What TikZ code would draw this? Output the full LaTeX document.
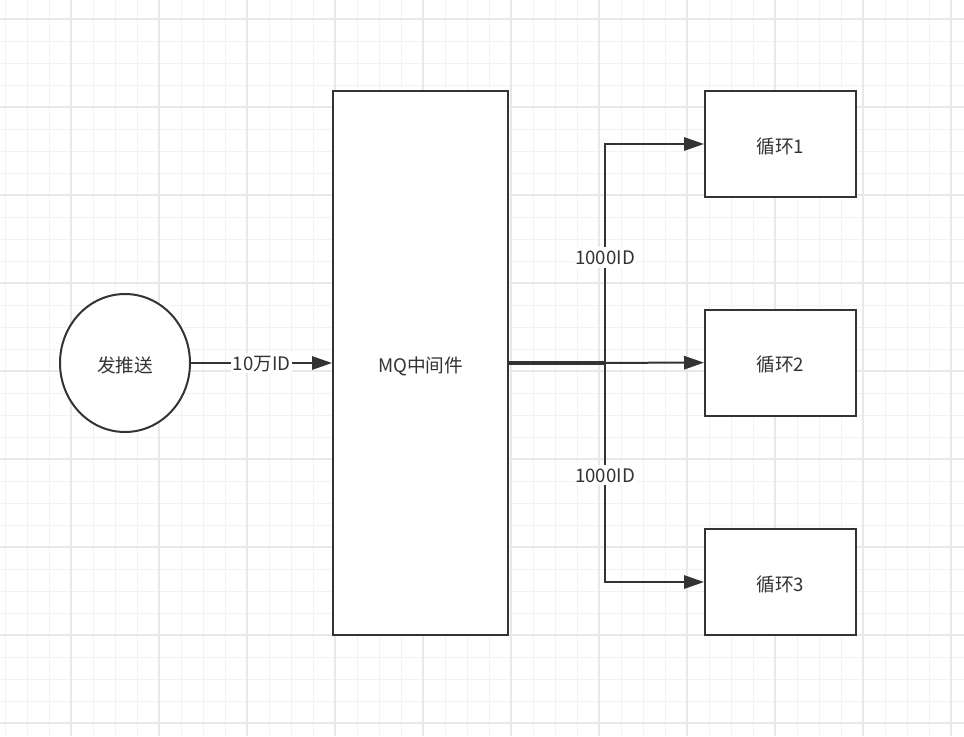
\documentclass[tikz,border=0pt]{standalone}
\usepackage{fontspec}
\setmainfont{Noto Sans CJK SC}
\usetikzlibrary{arrows.meta,shapes.geometric}

\definecolor{ink}{HTML}{333333}
\definecolor{gridminor}{HTML}{F2F2F2}
\definecolor{gridmajor}{HTML}{E8E8E8}

\tikzset{
  shapeline/.style={draw=ink,line width=1.5pt,fill=white,text=ink,font=\fontsize{14}{17}\selectfont,text height=1.5em,text depth=0.12em},
  loopbox/.style={shapeline,rectangle,minimum width=113.25pt,minimum height=79.5pt,inner sep=0pt},
  flow/.style={draw=ink,line width=1.5pt,-{Triangle[length=15pt,width=10pt]}},
  idlabel/.style={fill=white,text=ink,inner sep=1pt,font=\fontsize{14}{17}\selectfont,text height=1.2em,text depth=0.12em}
}

\begin{document}
\begin{tikzpicture}[x=0.75pt,y=-0.75pt]
          \useasboundingbox (0,0) rectangle (964,736);
          \fill[white] (0,0) rectangle (964,736);
          % grid
          \foreach \gx in {5,27,...,964} \draw[gridminor,line width=0.75pt] (\gx,0) -- (\gx,736);
          \foreach \gy in {-3,19,...,736} \draw[gridminor,line width=0.75pt] (0,\gy) -- (964,\gy);
          \foreach \gx in {71,159,...,964} \draw[gridmajor,line width=1pt] (\gx,0) -- (\gx,736);
          \foreach \gy in {19,107,...,736} \draw[gridmajor,line width=1pt] (0,\gy) -- (964,\gy);
          % shapes
          \node[shapeline,ellipse,minimum width=97.5pt,minimum height=103.5pt,inner sep=0pt] (push) at (125,363) {发推送};
          \node[shapeline,rectangle,minimum width=131.25pt,minimum height=408pt,inner sep=0pt] (mq) at (420.5,363) {MQ中间件};
          \node[loopbox] (loop1) at (780.5,144) {循环1};
          \node[loopbox] (loop2) at (780.5,362.5) {循环2};
          \node[loopbox] (loop3) at (780.5,582) {循环3};
          \coordinate (split) at (605,363);
          % edges
          \draw[flow] (push) -- node[idlabel] {10万ID} (mq);
          \draw[flow] (mq.east) -- (loop2);
          \draw[flow] ([yshift=0.7pt]mq.east) -- ([yshift=0.7pt]split) |- node[idlabel,pos=0.24] {1000ID} (loop1);
          \draw[flow] ([yshift=-0.7pt]mq.east) -- ([yshift=-0.7pt]split) |- node[idlabel,pos=0.255] {1000ID} (loop3);
        \end{tikzpicture}
\end{document}
